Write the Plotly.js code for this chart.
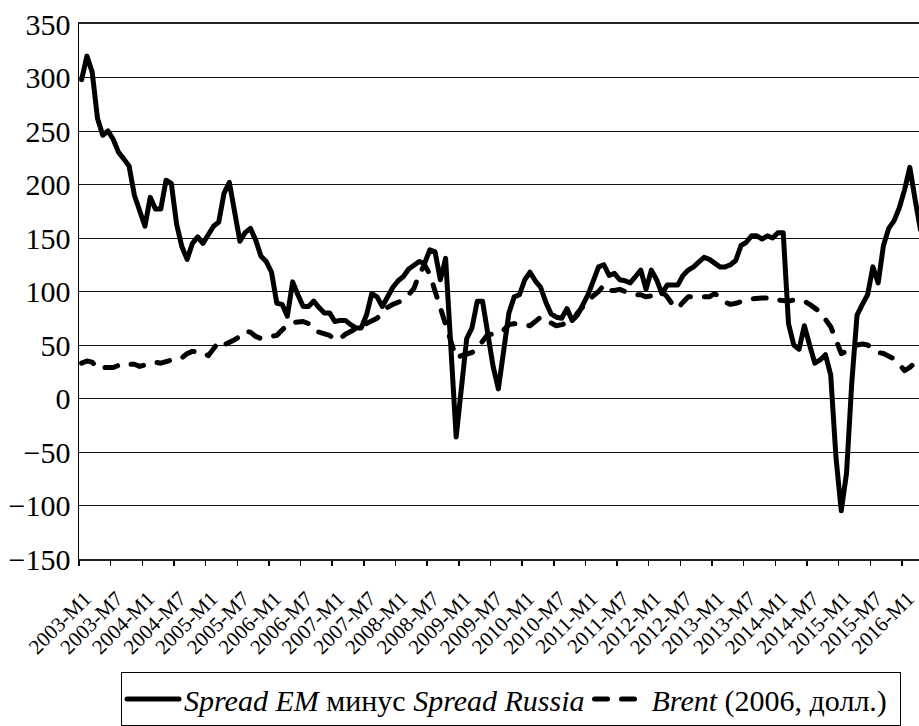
<!DOCTYPE html>
<html>
<head>
<meta charset="utf-8">
<script src="https://cdn.plot.ly/plotly-3.0.1.min.js"></script>
<style>html,body{margin:0;padding:0;background:#fff;}#chart{width:919px;height:726px;}</style>
</head>
<body>
<div id="chart"></div>
<script>
// Monthly categories 2003-M1 ... 2016-M4
const months = [];
for (let y = 2003; y <= 2016; y++) {
  for (let m = 1; m <= 12; m++) {
    if (months.length < 160) months.push(y + "-M" + m);
  }
}

// Spread EM minus Spread Russia (b.p.)
const spreadDiff = [
  298,320,305,262,246,250,242,230,224,217,190,175,
  161,188,177,177,204,201,163,142,130,145,151,145,
  154,161,165,192,202,175,147,155,159,148,133,128,
  118,89,88,77,109,97,86,86,91,85,80,80,
  72,73,73,69,66,66,78,98,95,86,96,104,
  110,114,121,124,128,126,139,137,111,131,50,-36,
  10,56,66,91,91,58,30,9,48,80,95,97,
  111,118,110,104,90,79,76,75,84,73,78,88,
  97,110,123,125,115,117,111,110,108,114,120,102,
  120,111,98,106,106,106,115,120,123,128,132,130,
  127,123,123,125,129,143,146,152,152,149,152,150,
  155,155,70,50,46,68,50,33,36,41,22,-55,
  -105,-70,15,78,88,97,123,108,143,159,166,178,
  195,216,186,158
];

// Brent, 2006 USD
const brent2006 = [
  33,35,34,28,29,29,29,31,30,32,32,30,
  31,33,34,33,35,36,36,38,42,44,44,43,
  40,46,53,50,52,55,58,63,62,58,56,57,
  58,59,64,69,71,72,72,70,64,62,61,59,
  55,56,60,63,66,68,70,72,75,80,85,88,
  90,92,97,103,116,125,116,101,85,69,53,38,
  40,41,43,47,53,60,60,61,64,69,70,70,
  69,68,72,76,73,70,68,69,70,72,80,86,
  91,96,100,106,101,101,102,100,98,97,97,95,
  96,97,100,95,88,84,90,95,95,95,95,95,
  98,95,90,88,89,91,92,93,94,94,94,94,
  92,91,91,92,92,91,88,85,81,74,67,55,
  42,44,48,50,51,50,46,43,42,40,37,32,
  26,29,34,38
];

const yTickVals = [-150,-100,-50,0,50,100,150,200,250,300,350];
const yTickText = yTickVals.map(v => (v < 0 ? "\u2212" + Math.abs(v) : String(v)));

const idx = months.map((_, i) => i);
const xTickIdx = idx.filter(i => i % 6 === 0 && i <= 156);

const serif = "Liberation Serif";

const traces = [
  {
    x: idx, y: spreadDiff, type: "scatter", mode: "lines",
    name: "<i>Spread EM</i> минус <i>Spread Russia</i>",
    line: {color: "#000", width: 5},
    hoverinfo: "skip"
  },
  {
    x: idx, y: brent2006, type: "scatter", mode: "lines",
    name: "<i>Brent</i> (2006, долл.)&nbsp;",
    line: {color: "#000", width: 5, dash: "13px,14px"},
    hoverinfo: "skip"
  }
];

const layout = {
  width: 919, height: 726,
  margin: {l: 79, r: 0, t: 24, b: 164},
  paper_bgcolor: "#fff", plot_bgcolor: "#fff",
  showlegend: true,
  font: {family: serif, color: "#000"},
  xaxis: {
    type: "linear",
    range: [-0.5, 158.74],
    tickmode: "array",
    tickvals: xTickIdx.map(i => i - 0.5),
    ticktext: xTickIdx.map(i => months[i]),
    tickangle: -45,
    tickfont: {family: serif, size: 21, color: "#000"},
    ticklabelshift: 6,
    ticklabelstandoff: 12,
    ticklabeloverflow: "allow",
    ticks: "outside", ticklen: 5, tickwidth: 1.5, tickcolor: "#000",
    showgrid: false, zeroline: false,
    showline: true, linecolor: "#222", linewidth: 2, mirror: true
  },
  yaxis: {
    range: [-150, 350],
    tickmode: "array",
    tickvals: yTickVals,
    ticktext: yTickText,
    tickfont: {family: serif, size: 30, color: "#000"},
    ticks: "", ticklabelstandoff: 1,
    showgrid: true, gridcolor: "#111", gridwidth: 1,
    zeroline: false,
    showline: true, linecolor: "#000", linewidth: 1.5
  },
  legend: {
    orientation: "h",
    x: (121 - 79) / 840, xanchor: "left",
    y: (562 - 676) / 538, yanchor: "top",
    font: {family: serif, size: 30, color: "#000"},
    bordercolor: "#000", borderwidth: 1,
    bgcolor: "#fff",
    itemwidth: 52
  }
};

Plotly.newPlot("chart", traces, layout, {staticPlot: true, displayModeBar: false}).then(gd => {
  gd.querySelectorAll(".scatterlayer path.js-line, .legend path.js-line").forEach(p => {
    p.style.strokeLinecap = "round";
    p.style.strokeLinejoin = "round";
  });
});
</script>
</body>
</html>
